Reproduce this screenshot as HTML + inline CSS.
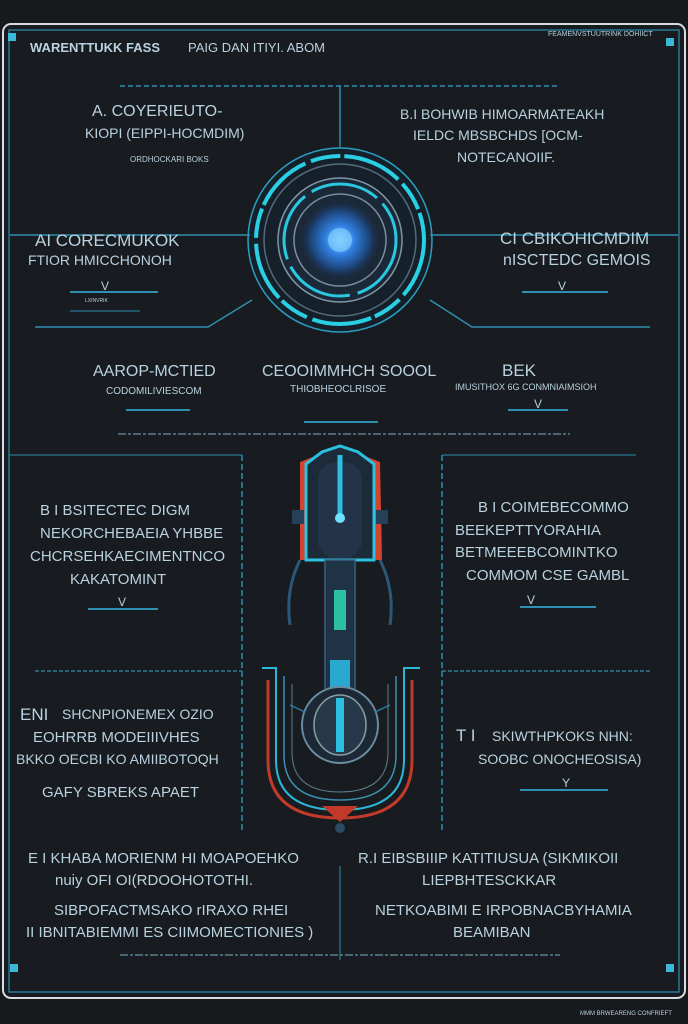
<!DOCTYPE html>
<html><head><meta charset="utf-8"><style>
html,body{margin:0;padding:0;background:#17191c;}
svg{display:block}
text{font-family:"Liberation Sans",sans-serif;fill:#b9d2df;}
</style></head><body>
<svg width="688" height="1024" viewBox="0 0 688 1024" xmlns="http://www.w3.org/2000/svg">
<defs>
<radialGradient id="core" cx="50%" cy="50%" r="50%">
<stop offset="0" stop-color="#9fd8ff"/><stop offset="0.35" stop-color="#2f7fe0"/><stop offset="0.7" stop-color="#1d4478"/><stop offset="1" stop-color="#1a2230" stop-opacity="0"/>
</radialGradient>
<radialGradient id="glow" cx="50%" cy="50%" r="50%">
<stop offset="0.7" stop-color="#1c3040" stop-opacity="0.4"/><stop offset="1" stop-color="#17191c" stop-opacity="0"/>
</radialGradient>
</defs>
<rect width="688" height="1024" fill="#17191c"/>
<rect x="3" y="24" width="682" height="974" rx="8" fill="#181b1f" stroke="#d8dde0" stroke-width="2"/>
<rect x="9" y="30" width="670" height="962" fill="none" stroke="#2a8fb0" stroke-width="1.2"/>
<rect x="8" y="33" width="8" height="8" fill="#3bb8d8"/><rect x="666" y="38" width="8" height="8" fill="#3bb8d8"/>
<rect x="10" y="964" width="8" height="8" fill="#3bb8d8"/><rect x="666" y="964" width="8" height="8" fill="#3bb8d8"/>

<text x="30" y="52" font-size="13" font-weight="bold" fill="#e8eef0">WARENTTUKK FASS</text>
<text x="188" y="52" font-size="13" fill="#9fc4d6">PAIG DAN ITIYI.  ABOM</text>
<text x="548" y="36" font-size="7" fill="#aab">FEAMENVSTUUTRINK DOHIICT</text>
<text x="580" y="1015" font-size="6" fill="#aab">MMM BRWEARENG CONFRIEFT</text>

<line x1="120" y1="86" x2="560" y2="86" stroke="#2e8fb0" stroke-width="1.5" stroke-dasharray="5,3"/>
<line x1="340" y1="86" x2="340" y2="180" stroke="#2e8fb0" stroke-width="1.5"/>

<text x="92" y="116" font-size="16">A.  COYERIEUTO-</text>
<text x="85" y="138" font-size="14">KIOPI  (EIPPI-HOCMDIM)</text>
<text x="130" y="162" font-size="8">ORDHOCKARI BOKS</text>
<text x="400" y="119" font-size="14">B.I  BOHWIB HIMOARMATEAKH</text>
<text x="413" y="140" font-size="14">IELDC MBSBCHDS [OCM-</text>
<text x="457" y="162" font-size="14">NOTECANOIIF.</text>

<circle cx="340" cy="240" r="100" fill="url(#glow)"/>
<circle cx="340" cy="240" r="92" fill="#16202a" stroke="#2aa0c0" stroke-width="1.5"/>
<circle cx="340" cy="240" r="84" fill="none" stroke="#29d0e4" stroke-width="4" stroke-dasharray="60,6,30,4"/>
<circle cx="340" cy="240" r="76" fill="none" stroke="#556b7a" stroke-width="1.5"/>
<circle cx="340" cy="240" r="62" fill="#1b2838" stroke="#7f96a6" stroke-width="1.5"/>
<circle cx="340" cy="240" r="56" fill="none" stroke="#29c8e0" stroke-width="3" stroke-dasharray="70,8"/>
<circle cx="340" cy="240" r="46" fill="none" stroke="#7a8ea0" stroke-width="1.5"/>
<circle cx="340" cy="240" r="42" fill="url(#core)"/>
<circle cx="340" cy="240" r="12" fill="#7ccfff" opacity="0.7"/>

<line x1="10" y1="235" x2="250" y2="235" stroke="#2e8fb0" stroke-width="1.5"/>
<line x1="430" y1="235" x2="678" y2="235" stroke="#2e8fb0" stroke-width="1.5"/>
<polyline points="35,327 208,327 252,300" fill="none" stroke="#2e8fb0" stroke-width="1.5"/>
<polyline points="430,300 472,327 650,327" fill="none" stroke="#2e8fb0" stroke-width="1.5"/>

<text x="35" y="246" font-size="17">AI  CORECMUKOK</text>
<text x="28" y="265" font-size="14">FTIOR HMICCHONOH</text>
<text x="101" y="290" font-size="12">V</text>
<line x1="70" y1="292" x2="158" y2="292" stroke="#2e8fb0" stroke-width="2"/>
<text x="85" y="302" font-size="5">LXINVRIK</text>
<line x1="70" y1="311" x2="140" y2="311" stroke="#2e8fb0" stroke-width="1"/>
<text x="500" y="244" font-size="17">CI  CBIKOHICMDIM</text>
<text x="503" y="265" font-size="16">nISCTEDC GEMOIS</text>
<text x="558" y="290" font-size="12">V</text>
<line x1="522" y1="292" x2="608" y2="292" stroke="#2e8fb0" stroke-width="2"/>

<text x="93" y="376" font-size="16">AAROP-MCTIED</text>
<text x="106" y="394" font-size="10">CODOMILIVIESCOM</text>
<line x1="126" y1="410" x2="190" y2="410" stroke="#2e8fb0" stroke-width="2"/>
<text x="262" y="376" font-size="16">CEOOIMMHCH  SOOOL</text>
<text x="290" y="392" font-size="10">THIOBHEOCLRISOE</text>
<line x1="304" y1="422" x2="378" y2="422" stroke="#2e8fb0" stroke-width="2"/>
<text x="502" y="376" font-size="17">BEK</text>
<text x="455" y="390" font-size="9">IMUSITHOX 6G CONMNIAIMSIOH</text>
<text x="534" y="408" font-size="12">V</text>
<line x1="508" y1="410" x2="568" y2="410" stroke="#2e8fb0" stroke-width="2"/>

<line x1="118" y1="434" x2="570" y2="434" stroke="#5a7f92" stroke-width="1.5" stroke-dasharray="8,2,3,2"/>

<line x1="10" y1="455" x2="242" y2="455" stroke="#2e8fb0" stroke-width="1"/>
<line x1="242" y1="455" x2="242" y2="830" stroke="#2e8fb0" stroke-width="1.5" stroke-dasharray="6,3"/>
<line x1="442" y1="455" x2="636" y2="455" stroke="#2e8fb0" stroke-width="1"/>
<line x1="442" y1="455" x2="442" y2="830" stroke="#2e8fb0" stroke-width="1.5" stroke-dasharray="6,3"/>
<line x1="35" y1="671" x2="242" y2="671" stroke="#2e8fb0" stroke-width="1.2" stroke-dasharray="4,2"/>
<line x1="442" y1="671" x2="650" y2="671" stroke="#2e8fb0" stroke-width="1.2" stroke-dasharray="4,2"/>

<text x="40" y="515" font-size="15">B I  BSITECTEC DIGM</text>
<text x="40" y="538" font-size="15">NEKORCHEBAEIA YHBBE</text>
<text x="30" y="561" font-size="15">CHCRSEHKAECIMENTNCO</text>
<text x="70" y="584" font-size="15">KAKATOMINT</text>
<text x="118" y="606" font-size="12">V</text>
<line x1="88" y1="609" x2="158" y2="609" stroke="#2e8fb0" stroke-width="2"/>
<text x="478" y="512" font-size="15">B I  COIMEBECOMMO</text>
<text x="455" y="535" font-size="15">BEEKEPTTYORAHIA</text>
<text x="455" y="557" font-size="15">BETMEEEBCOMINTKO</text>
<text x="466" y="580" font-size="15">COMMOM  CSE  GAMBL</text>
<text x="527" y="604" font-size="12">V</text>
<line x1="520" y1="607" x2="596" y2="607" stroke="#2e8fb0" stroke-width="2"/>

<text x="20" y="720" font-size="17">ENI</text>
<text x="62" y="719" font-size="14">SHCNPIONEMEX OZIO</text>
<text x="33" y="742" font-size="15">EOHRRB MODEIIIVHES</text>
<text x="16" y="764" font-size="14">BKKO OECBI KO AMIIBOTOQH</text>
<text x="42" y="797" font-size="15">GAFY SBREKS APAET</text>
<text x="456" y="741" font-size="17">T I</text>
<text x="492" y="741" font-size="14">SKIWTHPKOKS NHN:</text>
<text x="478" y="764" font-size="14">SOOBC ONOCHEOSISA)</text>
<text x="562" y="787" font-size="12">Y</text>
<line x1="520" y1="790" x2="608" y2="790" stroke="#2e8fb0" stroke-width="2"/>

<g>
<path d="M268,680 L268,760 Q268,818 340,818 Q412,818 412,760 L412,680" fill="none" stroke="#c23a2a" stroke-width="3"/>
<path d="M262,668 L276,668 L276,760 Q276,810 340,810 Q404,810 404,760 L404,668 L420,668" fill="none" stroke="#2bb8d8" stroke-width="2"/>
<path d="M284,676 L284,755 Q284,800 340,800 Q396,800 396,755 L396,676" fill="none" stroke="#3b8fb0" stroke-width="1.5"/>
<path d="M292,684 L292,752 Q292,792 340,792 Q388,792 388,752 L388,684" fill="none" stroke="#5b8090" stroke-width="1"/>
<path d="M322,806 L358,806 L340,822 Z" fill="#c0392b"/>
<circle cx="340" cy="828" r="5" fill="#2a4a66"/>
<path d="M300,462 L318,455 L362,455 L380,462 L382,560 L300,560 Z" fill="#d2442e"/>
<path d="M306,464 L322,452 L340,446 L358,452 L374,464 L374,560 L306,560 Z" fill="#1d2a3a" stroke="#2bc0e0" stroke-width="3"/>
<rect x="318" y="462" width="44" height="96" rx="18" fill="#243448"/>
<line x1="340" y1="455" x2="340" y2="520" stroke="#2bc0e0" stroke-width="5"/>
<circle cx="340" cy="518" r="5" fill="#6fe0ff"/>
<rect x="292" y="510" width="12" height="14" fill="#27405a"/><rect x="376" y="510" width="12" height="14" fill="#27405a"/>
<rect x="325" y="560" width="30" height="200" fill="#1f3346" stroke="#3a6080" stroke-width="1.5"/>
<rect x="334" y="590" width="12" height="40" fill="#2bc0a0"/>
<rect x="330" y="660" width="20" height="40" fill="#2aa8d0"/>
<path d="M300,560 Q285,590 290,625" fill="none" stroke="#2a5878" stroke-width="3"/>
<path d="M380,560 Q395,590 390,625" fill="none" stroke="#2a5878" stroke-width="3"/>
<ellipse cx="340" cy="725" rx="38" ry="38" fill="#1c2836" stroke="#6a8aa0" stroke-width="2"/>
<ellipse cx="340" cy="725" rx="26" ry="30" fill="#26384a" stroke="#8aa0a0" stroke-width="1.5"/>
<rect x="336" y="698" width="8" height="54" fill="#2bc0e0"/>
<line x1="290" y1="705" x2="305" y2="712" stroke="#2a7fa0" stroke-width="1.5"/>
<line x1="390" y1="705" x2="375" y2="712" stroke="#2a7fa0" stroke-width="1.5"/>
</g>

<line x1="340" y1="866" x2="340" y2="960" stroke="#2e8fb0" stroke-width="1"/>
<text x="28" y="863" font-size="15">E I  KHABA MORIENM HI MOAPOEHKO</text>
<text x="55" y="885" font-size="15">nuiy OFI OI(RDOOHOTOTHI.</text>
<text x="54" y="915" font-size="15">SIBPOFACTMSAKO rIRAXO RHEI</text>
<text x="26" y="937" font-size="15">II IBNITABIEMMI ES CIIMOMECTIONIES )</text>
<text x="358" y="863" font-size="15">R.I  EIBSBIIIP KATITIUSUA (SIKMIKOII</text>
<text x="422" y="885" font-size="15">LIEPBHTESCKKAR</text>
<text x="375" y="915" font-size="15">NETKOABIMI E IRPOBNACBYHAMIA</text>
<text x="453" y="937" font-size="15">BEAMIBAN</text>
<line x1="120" y1="955" x2="560" y2="955" stroke="#5a7f92" stroke-width="1.5" stroke-dasharray="8,2,3,2"/>
</svg>
</body></html>
